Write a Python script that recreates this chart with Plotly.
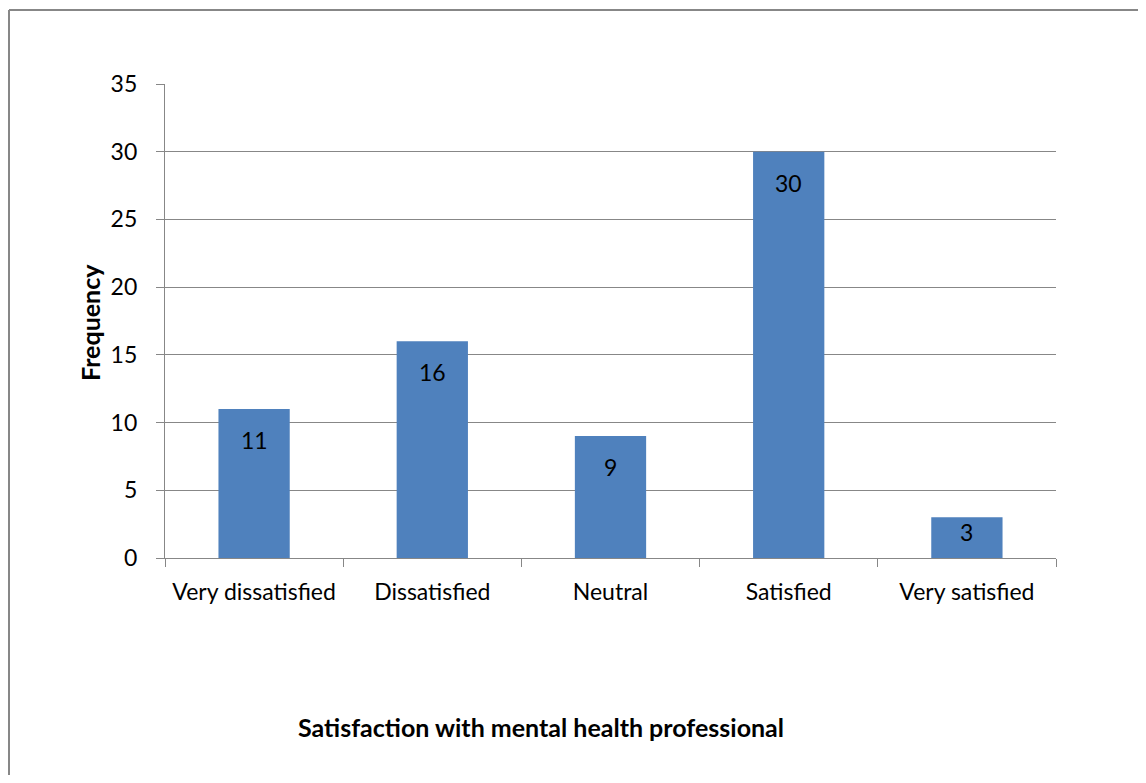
import plotly.graph_objects as go

categories = ["Very dissatisfied", "Dissatisfied", "Neutral", "Satisfied", "Very satisfied"]
frequency = [11, 16, 9, 30, 3]
y_ticks = [0, 5, 10, 15, 20, 25, 30, 35]

# page has an 8px body margin; figure sized to fit inside the 1146x783 window
OFF = 8
W, H = 1146 - 2 * OFF, 783 - 2 * OFF
# plot area in screen pixels
X0, X1, Y0, Y1 = 165, 1056, 84, 558
L, R = X0 - OFF, W - (X1 - OFF)
T, B = Y0 - OFF, H - (Y1 - OFF)
pw, ph = X1 - X0, Y1 - Y0
YMAX = 35

def px(x):
    return (x - X0) / pw

def py(y):
    return (Y1 - y) / ph

FONT = "Lato, Carlito, Calibri, sans-serif"
GRAY = "#878787"
FS = 23

fig = go.Figure(go.Bar(
    x=categories, y=frequency,
    marker=dict(color="#4F81BD", line=dict(width=0)),
    cliponaxis=False,
))

# data labels just below the top of each bar (inside end)
for c, v in zip(categories, frequency):
    bar_px = v / YMAX * ph
    shift = -min(31, bar_px * 0.35)
    fig.add_annotation(x=c, y=v, text=str(v), showarrow=False,
                       xanchor="center", yanchor="middle", yshift=shift,
                       font=dict(family=FONT, size=FS, color="black"))

fig.update_layout(
    width=W, height=H,
    margin=dict(l=L, r=R, t=T, b=B),
    paper_bgcolor="white", plot_bgcolor="white",
    bargap=0.6, showlegend=False,
    font=dict(family=FONT, size=FS, color="black"),
)
fig.update_xaxes(
    showline=True, linecolor=GRAY, linewidth=1.3,
    ticks="outside", tickson="boundaries", ticklen=8, tickcolor=GRAY, tickwidth=1.3,
    tickfont=dict(family=FONT, size=FS, color="black"),
    showgrid=False, ticklabelstandoff=13, tickangle=0,
)
fig.update_yaxes(
    range=[0, YMAX], tickvals=y_ticks,
    showline=True, linecolor=GRAY, linewidth=1.3,
    ticks="outside", ticklen=8, tickcolor=GRAY, tickwidth=1.3,
    showgrid=True, gridcolor=GRAY, gridwidth=1.3,
    zeroline=False, ticklabelstandoff=14,
    tickfont=dict(family=FONT, size=FS, color="black"),
)

fig.add_annotation(text="<b>Frequency</b>", xref="paper", yref="paper",
                   x=px(90), y=py(323), textangle=-90, showarrow=False,
                   xanchor="center", yanchor="middle",
                   font=dict(family=FONT, size=25, color="black"))
fig.add_annotation(text="<b>Satisfaction with mental health professional</b>", xref="paper", yref="paper",
                   x=px(541), y=py(727), showarrow=False,
                   xanchor="center", yanchor="middle",
                   font=dict(family=FONT, size=25, color="black"))

# chart border (left and top edges visible)
fig.add_shape(type="line", xref="paper", yref="paper",
              x0=px(9), x1=px(9), y0=py(10), y1=py(800),
              line=dict(color=GRAY, width=2))
fig.add_shape(type="line", xref="paper", yref="paper",
              x0=px(9), x1=px(1160), y0=py(10), y1=py(10),
              line=dict(color=GRAY, width=2))

fig.write_html("out.html")
